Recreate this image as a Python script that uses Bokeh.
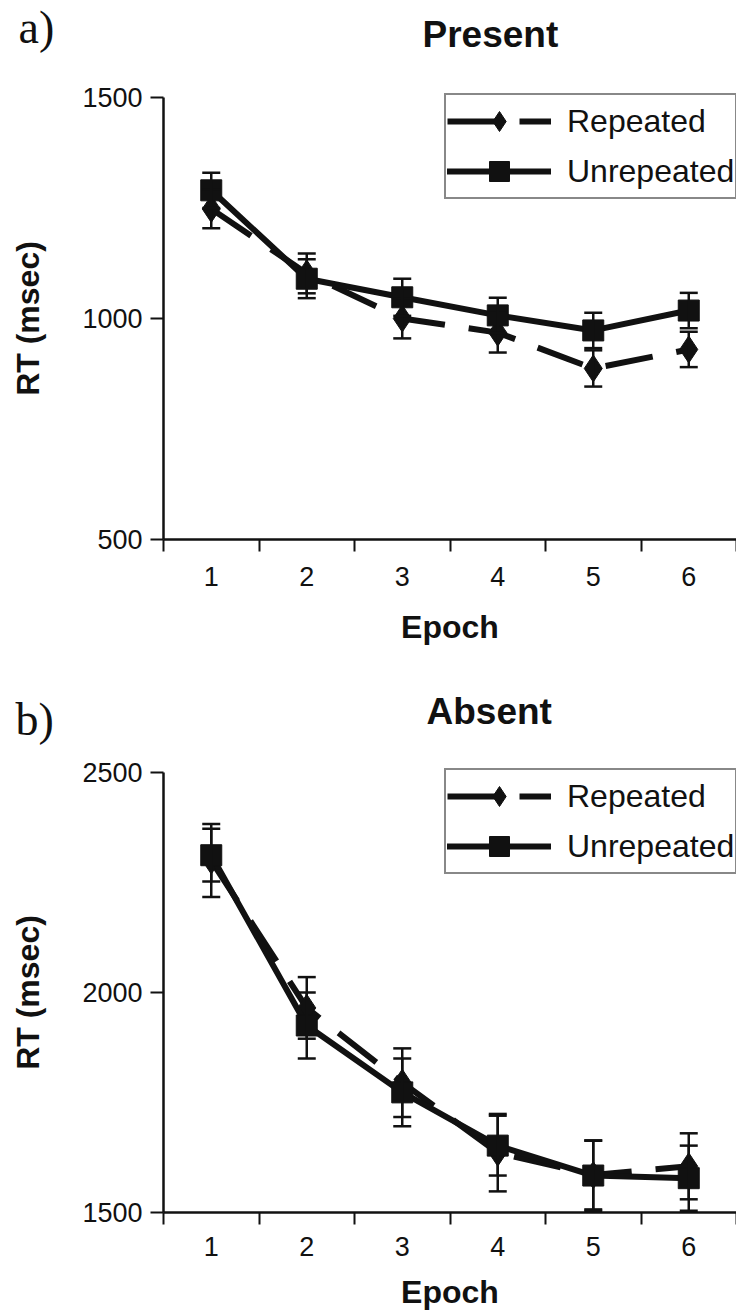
from bokeh.plotting import figure
from bokeh.models import (ColumnDataSource, FixedTicker, Range1d, Legend, LegendItem,
                          Whisker, TeeHead, Label)
from bokeh.layouts import column
from bokeh.embed import file_html
from bokeh.resources import INLINE

# ---------------- data ----------------
epochs = [1, 2, 3, 4, 5, 6]
epoch_labels = ["1", "2", "3", "4", "5", "6"]

present_repeated = [1248, 1102, 1000, 968, 887, 930]
present_repeated_se = [44, 45, 45, 45, 41, 40]
present_unrepeated = [1290, 1090, 1048, 1007, 973, 1018]
present_unrepeated_se = [40, 44, 42, 40, 40, 40]

absent_repeated = [2300, 1965, 1795, 1636, 1585, 1605]
absent_repeated_se = [83, 70, 78, 88, 78, 75]
absent_unrepeated = [2312, 1925, 1773, 1652, 1584, 1578]
absent_unrepeated_se = [60, 75, 77, 68, 80, 74]

present_yticks = [500, 1000, 1500]
absent_yticks = [1500, 2000, 2500]

INK = "#111111"
SANS = "Liberation Sans"
SERIF = "Liberation Serif"

W = 736
AX_LEFT = 163          # pixel position of the y axis line
X_SPAN = W - AX_LEFT   # pixels covered by the six epochs


def make_panel(letter, title, rep, rep_se, unrep, unrep_se, yticks,
               height, ax_top, ax_bottom, tick_standoff, label_standoff,
               letter_xy, title_xy):
    # the frame fills the whole canvas; axes sit at fixed locations inside it
    x0, x1 = epochs[0] - 0.5, epochs[-1] + 0.5
    xpp = (x1 - x0) / X_SPAN
    y0, y1 = yticks[0], yticks[-1]
    ypp = (y1 - y0) / (ax_bottom - ax_top)
    p = figure(width=W, height=height,
               x_range=Range1d(x0 - AX_LEFT * xpp, x1),
               y_range=Range1d(y0 - (height - ax_bottom) * ypp, y1 + ax_top * ypp),
               output_backend="svg", toolbar_location=None,
               min_border=0, min_border_left=0, min_border_right=0,
               min_border_top=0, min_border_bottom=0)
    p.xgrid.visible = False
    p.ygrid.visible = False
    p.outline_line_color = None
    p.background_fill_color = "white"
    p.border_fill_color = "white"

    xa = p.xaxis[0]
    xa.fixed_location = y0
    xa.bounds = (x0, x1)
    xa.ticker = FixedTicker(ticks=epochs,
                            minor_ticks=[e - 0.5 for e in epochs] + [epochs[-1] + 0.5])
    xa.major_label_overrides = {e: l for e, l in zip(epochs, epoch_labels)}
    xa.major_tick_out = 0
    xa.major_tick_in = 0
    xa.minor_tick_out = 12
    xa.minor_tick_in = 0
    xa.minor_tick_line_width = 2
    xa.minor_tick_line_color = INK
    xa.axis_line_width = 2.5
    xa.axis_line_color = INK
    xa.major_label_text_font = SANS
    xa.major_label_text_font_size = "27px"
    xa.major_label_text_color = INK
    xa.major_label_standoff = tick_standoff
    xa.axis_label = "Epoch"
    xa.axis_label_text_font = SANS
    xa.axis_label_text_font_size = "32px"
    xa.axis_label_text_font_style = "bold"
    xa.axis_label_text_color = INK
    xa.axis_label_standoff = label_standoff

    ya = p.yaxis[0]
    ya.fixed_location = x0
    ya.bounds = (y0, y1)
    ya.ticker = FixedTicker(ticks=yticks, minor_ticks=[])
    ya.major_tick_out = 13
    ya.major_tick_in = 0
    ya.major_tick_line_width = 2
    ya.major_tick_line_color = INK
    ya.minor_tick_out = 0
    ya.minor_tick_in = 0
    ya.axis_line_width = 2.5
    ya.axis_line_color = INK
    ya.major_label_text_font = SANS
    ya.major_label_text_font_size = "27px"
    ya.major_label_text_color = INK
    ya.major_label_standoff = 8
    ya.axis_label = "RT (msec)"
    ya.axis_label_text_font = SANS
    ya.axis_label_text_font_size = "32px"
    ya.axis_label_text_font_style = "bold"
    ya.axis_label_text_color = INK
    ya.axis_label_standoff = 33

    src_r = ColumnDataSource(dict(
        x=epochs, y=rep,
        upper=[v + s for v, s in zip(rep, rep_se)],
        lower=[v - s for v, s in zip(rep, rep_se)]))
    src_u = ColumnDataSource(dict(
        x=epochs, y=unrep,
        upper=[v + s for v, s in zip(unrep, unrep_se)],
        lower=[v - s for v, s in zip(unrep, unrep_se)]))

    for src in (src_r, src_u):
        w = Whisker(source=src, base="x", upper="upper", lower="lower",
                    line_width=2.5, line_color=INK, level="glyph",
                    upper_head=TeeHead(size=18, line_width=2.5, line_color=INK),
                    lower_head=TeeHead(size=18, line_width=2.5, line_color=INK))
        p.add_layout(w)

    r_line = p.line("x", "y", source=src_r, line_width=6, line_color=INK,
                    line_dash="48 24")
    r_pts = p.scatter("x", "y", source=src_r, marker="diamond",
                      size=27, fill_color=INK, line_color=INK)
    u_line = p.line("x", "y", source=src_u, line_width=6, line_color=INK,
                    line_cap="round")
    u_pts = p.scatter("x", "y", source=src_u, marker="square", size=21,
                      fill_color=INK, line_color=INK)

    legend_h = 102
    legend = Legend(items=[LegendItem(label="Repeated", renderers=[r_line, r_pts]),
                           LegendItem(label="Unrepeated", renderers=[u_line, u_pts])],
                    location=(444, height - ax_top - legend_h),
                    margin=0, padding=1, spacing=0,
                    glyph_width=104, glyph_height=50, label_height=50,
                    label_standoff=16, label_text_font=SANS,
                    label_text_font_size="32px", label_text_color=INK,
                    border_line_color=INK, border_line_width=2,
                    background_fill_color="white", background_fill_alpha=1)
    p.add_layout(legend)

    p.add_layout(Label(x=letter_xy[0], y=height - letter_xy[1],
                       x_units="screen", y_units="screen",
                       text=letter, text_font=SERIF, text_font_size="46px",
                       text_color=INK, text_baseline="alphabetic"))
    p.add_layout(Label(x=title_xy[0], y=height - title_xy[1],
                       x_units="screen", y_units="screen",
                       text=title, text_font=SANS, text_font_size="37px",
                       text_font_style="bold", text_color=INK,
                       text_baseline="alphabetic"))
    return p


pa = make_panel("a)", "Present", present_repeated, present_repeated_se,
                present_unrepeated, present_unrepeated_se, present_yticks,
                height=660, ax_top=97, ax_bottom=539, tick_standoff=15, label_standoff=20,
                letter_xy=(18, 27), title_xy=(422, 34))
pb = make_panel("b)", "Absent", absent_repeated, absent_repeated_se,
                absent_unrepeated, absent_unrepeated_se, absent_yticks,
                height=655, ax_top=112, ax_bottom=552, tick_standoff=12, label_standoff=15,
                letter_xy=(15, 59), title_xy=(426, 51))

layout = column(pa, pb)
open("out.html", "w").write(file_html(layout, INLINE))
